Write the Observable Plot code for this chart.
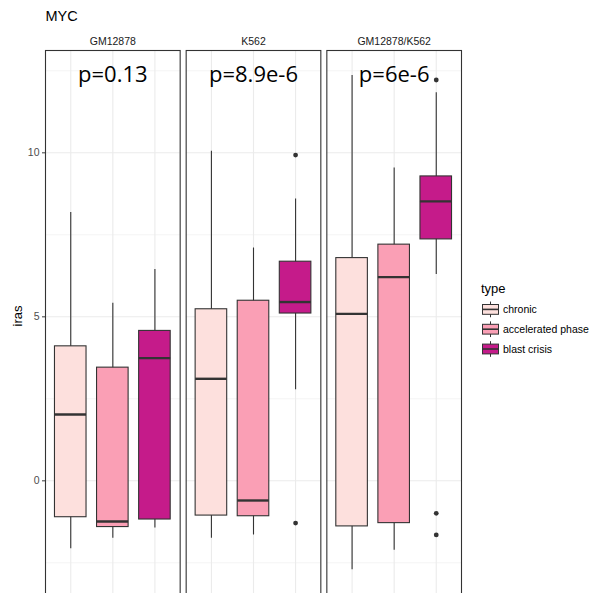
<!DOCTYPE html>
<html><head><meta charset="utf-8">
<script src="https://cdn.jsdelivr.net/npm/d3@7"></script>
<script src="https://cdn.jsdelivr.net/npm/@observablehq/plot@0.6"></script>
<style>
html,body{margin:0;padding:0;background:#fff;overflow:hidden;}
#wrap{position:relative;width:589px;height:593px;overflow:hidden;}
#wrap svg{position:absolute;left:0;top:0;}
</style></head><body><div id="wrap"></div>
<script>
// ---- data ----
const facets = ["GM12878", "K562", "GM12878/K562"];
const types = ["chronic", "accelerated phase", "blast crisis"];
const typeColors = ["#FDE0DD", "#FA9FB5", "#C51B8A"];
// order: facet-major, type-minor
const whiskerLow  = [-2.07, -1.75, -1.44,  -1.75, -1.65, 2.78,  -2.71, -2.12, 6.29];
const q1          = [-1.11, -1.41, -1.18,  -1.06, -1.08, 5.10,  -1.39, -1.29, 7.36];
const median      = [ 2.02, -1.24,  3.74,   3.11, -0.60, 5.45,   5.09,  6.21, 8.52];
const q3          = [ 4.10,  3.45,  4.57,   5.23,  5.49, 6.68,   6.79,  7.20, 9.28];
const whiskerHigh = [ 8.18,  5.41,  6.44,  10.05,  7.10, 8.59,  12.36,  9.54, 11.83];
const outlierFacet = ["K562", "K562", "GM12878/K562", "GM12878/K562", "GM12878/K562"];
const outlierType  = ["blast crisis", "blast crisis", "blast crisis", "blast crisis", "blast crisis"];
const outlierValue = [9.93, -1.29, 12.22, -0.99, -1.65];
const pValues = ["p=0.13", "p=8.9e-6", "p=6e-6"];
const yTicks = [0, 5, 10];
const yMinor = [-2.5, 2.5, 7.5, 12.5];
const yDomain = [-3.649, 13.119];
const title = "MYC";
const yLabel = "iras";
const legendTitle = "type";

// ---- build tables ----
const rows = [];
facets.forEach((f, i) => types.forEach((t, j) => {
  const k = i * types.length + j;
  rows.push({facet: f, type: t, lo: whiskerLow[k], q1: q1[k], med: median[k], q3: q3[k], hi: whiskerHigh[k]});
}));
const outliers = outlierValue.map((v, i) => ({facet: outlierFacet[i], type: outlierType[i], value: v}));
const labels = facets.map((f, i) => ({facet: f, type: types[1], text: pValues[i]}));

const grid = "#ebebeb", ink = "#333333";

const plot = Plot.plot({
  width: 589, height: 610,
  marginLeft: 45, marginRight: 128, marginTop: 50, marginBottom: 10,
  facet: {marginTop: 0, marginBottom: 0, marginLeft: 0, marginRight: 0},
  style: {fontFamily: "Liberation Sans, Arial, sans-serif", fontSize: "10.5px", color: "#4d4d4d", background: "transparent", overflow: "visible"},
  fx: {domain: facets, axis: "top", label: null, tickSize: 0, tickPadding: 6, paddingInner: 0.0427, paddingOuter: 0, round: false},
  x: {domain: types, type: "band", paddingInner: 0.25, paddingOuter: 0.225, axis: null, round: false},
  y: {domain: yDomain, ticks: yTicks, tickSize: 3, tickPadding: 3, label: null, tickFormat: d => String(d)},
  color: {domain: types, range: typeColors},
  marks: [
    Plot.ruleY(yMinor, {stroke: grid, strokeWidth: 0.6}),
    Plot.ruleY(yTicks, {stroke: grid, strokeWidth: 1.1}),
    Plot.ruleX(types, {x: d => d, stroke: grid, strokeWidth: 1.1}),
    Plot.ruleX(rows, {fx: "facet", x: "type", y1: "lo", y2: "hi", stroke: ink, strokeWidth: 1.1}),
    Plot.barY(rows, {fx: "facet", x: "type", y1: "q1", y2: "q3", fill: "type", stroke: ink, strokeWidth: 1.1}),
    Plot.tickY(rows, {fx: "facet", x: "type", y: "med", stroke: ink, strokeWidth: 2.4}),
    Plot.dot(outliers, {fx: "facet", x: "type", y: "value", r: 2.4, fill: ink, stroke: null}),
    Plot.text(labels, {fx: "facet", x: "type", text: "text", frameAnchor: "top", lineAnchor: "bottom", dy: 31.7,
      fontSize: 22, fontFamily: "Open Sans, sans-serif", fill: "black"}),
    Plot.frame({stroke: ink, strokeWidth: 1.1})
  ]
});

d3.select(plot).selectAll('[aria-label="fx-axis tick label"] text, [aria-label="fx-axis tick label"]').attr("fill", "#1a1a1a");
d3.select(plot).selectAll('[aria-label="y-axis tick"]').attr("stroke", ink).attr("stroke-width", 1.1);

const wrap = document.getElementById("wrap");
wrap.appendChild(plot);

// ---- overlay: title, axis title, legend ----
const ov = d3.create("svg").attr("width", 589).attr("height", 593)
  .style("font-family", "Liberation Sans, Arial, sans-serif");
ov.append("text").attr("x", 45.5).attr("y", 21).attr("font-size", 14.5).attr("fill", "black").text(title);
ov.append("text").attr("transform", "translate(22,316) rotate(-90)").attr("text-anchor", "middle")
  .attr("font-size", 13).attr("fill", "black").text(yLabel);
ov.append("text").attr("x", 481).attr("y", 293).attr("font-size", 13).attr("fill", "black").text(legendTitle);
const keyX = 482.5, keyW = 16, keyStep = 19.8, keyY0 = 309.4, keyH = 19.6;
types.forEach((t, i) => {
  const cy = keyY0 + i * keyStep, cx = keyX + keyW / 2;
  const g = ov.append("g");
  g.append("line").attr("x1", cx).attr("x2", cx).attr("y1", cy - keyH * 0.4).attr("y2", cy + keyH * 0.4)
    .attr("stroke", ink).attr("stroke-width", 1);
  g.append("rect").attr("x", keyX).attr("y", cy - keyH * 0.25).attr("width", keyW).attr("height", keyH * 0.5)
    .attr("fill", typeColors[i]).attr("stroke", ink).attr("stroke-width", 1);
  g.append("line").attr("x1", keyX).attr("x2", keyX + keyW).attr("y1", cy).attr("y2", cy)
    .attr("stroke", ink).attr("stroke-width", 1.6);
  g.append("text").attr("x", 503).attr("y", cy + 3.7).attr("font-size", 10.5).attr("fill", "black").text(t);
});
wrap.appendChild(ov.node());
</script></body></html>
